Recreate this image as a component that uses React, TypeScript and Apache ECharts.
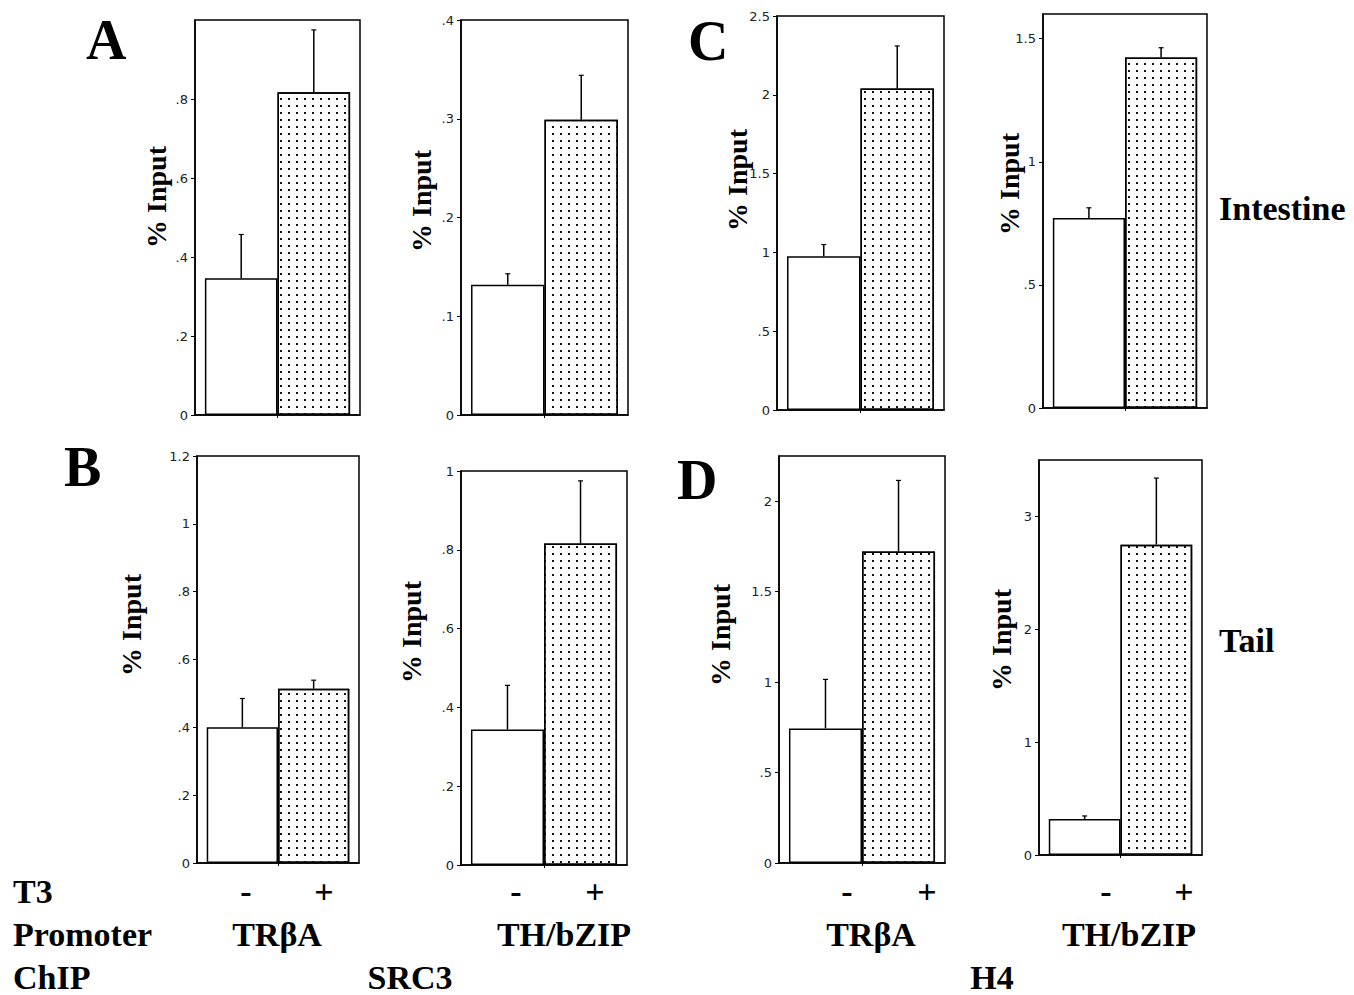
import { useEffect, useRef } from "react";
import * as echarts from "echarts";

// Panel order: A1, A2, B1, B2, C1, C2, D1, D2
const panelIds = ["A-TRbA", "A-THbZIP", "B-TRbA", "B-THbZIP", "C-TRbA", "C-THbZIP", "D-TRbA", "D-THbZIP"];
const t3Categories = ["-", "+"];
const minusT3Values = [0.346, 0.132, 0.4, 0.344, 0.975, 0.772, 0.744, 0.32];
const minusT3ErrTop = [0.457, 0.143, 0.485, 0.456, 1.05, 0.813, 1.015, 0.346];
const plusT3Values = [0.817, 0.299, 0.514, 0.816, 2.04, 1.423, 1.722, 2.75];
const plusT3ErrTop = [0.975, 0.344, 0.539, 0.975, 2.31, 1.463, 2.115, 3.34];
const axisMax = [1, 0.4, 1.2, 1, 2.5, 1.6, 2.25, 3.5];
const axisInterval = [0.2, 0.1, 0.2, 0.2, 0.5, 0.5, 0.5, 1];
const showTopLabel = [false, true, true, true, true, false, false, false];

// layout (page pixels): [left, top, right, bottom]
const panelRects = [
  [195, 20, 360, 415],
  [461, 20, 628, 415],
  [197, 456, 359, 863],
  [461, 471, 627, 865],
  [777, 16, 944, 410],
  [1043, 14, 1207, 408],
  [779, 456, 945, 863],
  [1039, 460, 1202, 855],
];
const yNamePos = [
  [156, 197],
  [421, 201],
  [131, 625],
  [411, 632],
  [737, 180],
  [1009, 184],
  [720, 635],
  [1001, 640],
];

const SERIF = '"Liberation Serif", "Times New Roman", serif';
const SANS = '"DejaVu Sans", sans-serif';
const BAR_FRAC = 0.44;

function fmt(v: number): string {
  if (v === 0) return "0";
  const s = String(Math.round(v * 100) / 100);
  return s.startsWith("0.") ? s.slice(1) : s;
}

export default function App() {
  const ref = useRef<HTMLDivElement>(null);
  useEffect(() => {
    if (!ref.current) return;
    const chart = echarts.init(ref.current, null, { renderer: "svg" });
    const grids: any[] = [];
    const xAxes: any[] = [];
    const yAxes: any[] = [];
    const series: any[] = [];
    const graphics: any[] = [];

    panelIds.forEach((id, i) => {
      const [l, t, r, b] = panelRects[i];
      grids.push({
        left: l,
        top: t,
        width: r - l,
        height: b - t,
        show: true,
        borderColor: "#000",
        borderWidth: 1.5,
        backgroundColor: "transparent",
      });
      xAxes.push({
        type: "category",
        gridIndex: i,
        data: [id],
        axisLine: { lineStyle: { color: "#000", width: 1.5 } },
        axisTick: { show: true, alignWithLabel: true, length: 3, lineStyle: { color: "#000", width: 1 } },
        axisLabel: { show: false },
        splitLine: { show: false },
      });
      yAxes.push({
        type: "value",
        gridIndex: i,
        min: 0,
        max: axisMax[i],
        interval: axisInterval[i],
        axisLine: { show: true, lineStyle: { color: "#000", width: 1.5 } },
        axisTick: { show: true, inside: false, length: 4, lineStyle: { color: "#000", width: 1 } },
        splitLine: { show: false },
        axisLabel: {
          show: true,
          showMaxLabel: showTopLabel[i],
          showMinLabel: true,
          formatter: (v: number) => fmt(v),
          fontFamily: SANS,
          fontSize: 13,
          color: "#222",
          margin: 7,
        },
      });
      series.push({
        type: "bar",
        name: `${id} T3 ${t3Categories[0]}`,
        xAxisIndex: i,
        yAxisIndex: i,
        data: [minusT3Values[i]],
        barWidth: `${BAR_FRAC * 100}%`,
        barGap: "0%",
        itemStyle: { color: "#fff", borderColor: "#000", borderWidth: 1.5 },
        z: 2,
      });
      series.push({
        type: "bar",
        name: `${id} T3 ${t3Categories[1]}`,
        xAxisIndex: i,
        yAxisIndex: i,
        data: [plusT3Values[i]],
        barWidth: `${BAR_FRAC * 100}%`,
        barGap: "0%",
        itemStyle: {
          color: "#fff",
          borderColor: "#000",
          borderWidth: 1.5,
          decal: {
            symbol: "rect",
            symbolSize: 1,
            color: "#111",
            dashArrayX: [2, 6],
            dashArrayY: [2, 4.7],
            rotation: 0,
          },
        },
        z: 2,
      });
      series.push({
        type: "custom",
        xAxisIndex: i,
        yAxisIndex: i,
        z: 3,
        silent: true,
        data: [
          [0, minusT3Values[i], minusT3ErrTop[i], -1],
          [0, plusT3Values[i], plusT3ErrTop[i], 1],
        ],
        encode: { x: 0, y: 2 },
        renderItem: (params: any, api: any) => {
          const cat = api.value(0);
          const val = api.value(1);
          const top = api.value(2);
          const side = api.value(3);
          const band = api.size([1, 0])[0];
          const base = api.coord([cat, val]);
          const tp = api.coord([cat, top]);
          const x = base[0] + (side * band * BAR_FRAC) / 2;
          return {
            type: "group",
            children: [
              {
                type: "line",
                shape: { x1: x, y1: base[1], x2: x, y2: tp[1] },
                style: { stroke: "#000", lineWidth: 1.5 },
              },
              {
                type: "line",
                shape: { x1: x - 2.5, y1: tp[1], x2: x + 2.5, y2: tp[1] },
                style: { stroke: "#000", lineWidth: 1.2 },
              },
            ],
          };
        },
      });
      graphics.push({
        type: "text",
        x: yNamePos[i][0],
        y: yNamePos[i][1],
        rotation: Math.PI / 2,
        style: {
          text: "% Input",
          font: `bold 28px ${SERIF}`,
          fill: "#000",
          textAlign: "center",
          textVerticalAlign: "middle",
        },
      });
    });

    const big = (text: string, x: number, y: number) => ({
      type: "text",
      x,
      y,
      style: { text, font: `bold 56px ${SERIF}`, fill: "#000", textAlign: "left", textVerticalAlign: "middle" },
    });
    const lab = (text: string, x: number, y: number, align: string = "center") => ({
      type: "text",
      x,
      y,
      style: { text, font: `bold 34px ${SERIF}`, fill: "#000", textAlign: align, textVerticalAlign: "middle" },
    });
    graphics.push(big("A", 86, 40));
    graphics.push(big("B", 64, 467));
    graphics.push(big("C", 688, 41));
    graphics.push(big("D", 677, 480));
    graphics.push(lab("Intestine", 1219, 208, "left"));
    graphics.push(lab("Tail", 1219, 640, "left"));
    graphics.push(lab("T3", 13, 891, "left"));
    graphics.push(lab("Promoter", 13, 934, "left"));
    graphics.push(lab("ChIP", 13, 977, "left"));
    graphics.push(lab(t3Categories[0], 246, 891));
    graphics.push(lab(t3Categories[1], 324, 891));
    graphics.push(lab(t3Categories[0], 516, 891));
    graphics.push(lab(t3Categories[1], 595, 891));
    graphics.push(lab(t3Categories[0], 847, 891));
    graphics.push(lab(t3Categories[1], 927, 891));
    graphics.push(lab(t3Categories[0], 1106, 891));
    graphics.push(lab(t3Categories[1], 1184, 891));
    graphics.push(lab("TRβA", 277, 934));
    graphics.push(lab("TH/bZIP", 564, 934));
    graphics.push(lab("TRβA", 871, 934));
    graphics.push(lab("TH/bZIP", 1129, 934));
    graphics.push(lab("SRC3", 410, 977));
    graphics.push(lab("H4", 992, 977));

    chart.setOption({
      animation: false,
      backgroundColor: "#fff",
      grid: grids,
      xAxis: xAxes,
      yAxis: yAxes,
      series,
      graphic: graphics,
    });
    return () => chart.dispose();
  }, []);
  return (
    <div
      ref={ref}
      style={{ position: "fixed", left: 0, top: 0, width: 1354, height: 995, background: "#fff" }}
    />
  );
}
